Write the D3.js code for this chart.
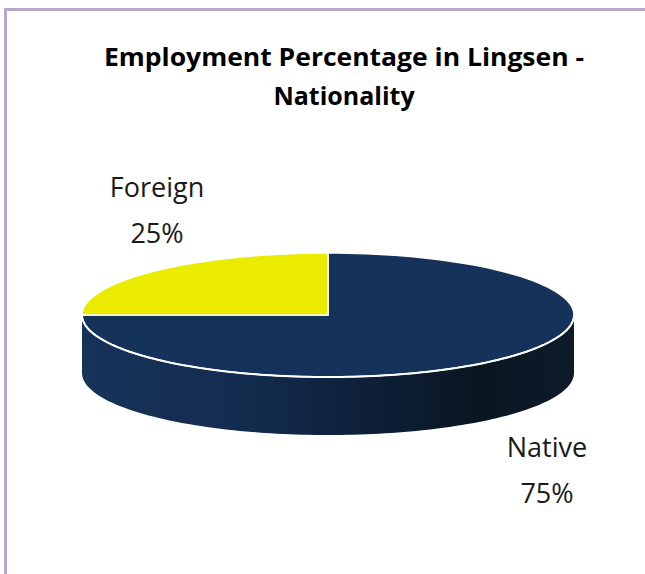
<!DOCTYPE html>
<html>
<head>
<meta charset="utf-8">
<script src="https://cdn.jsdelivr.net/npm/d3@7"></script>
<style>
  html, body { margin: 0; padding: 0; background: #ffffff; }
  svg { display: block; }
</style>
</head>
<body>
<svg id="chart" width="645" height="574"></svg>
<script>
// Employment share by nationality
const categories = ["Native", "Foreign"];
const values = [75, 25];
const sliceColors = ["#15325a", "#ebeb00"];
const titleLines = ["Employment Percentage in Lingsen -", "Nationality"];

const W = 645, H = 574;
const svg = d3.select("#chart");

// frame: lavender rule along the top and left edges
svg.append("path")
  .attr("d", `M5.5,${H} L5.5,9.5 L${W},9.5`)
  .attr("fill", "none")
  .attr("stroke", "#b8a7cd")
  .attr("stroke-width", 3);

// title
const title = svg.append("text")
  .attr("text-anchor", "middle")
  .attr("font-family", "'Open Sans', sans-serif")
  .attr("font-weight", "bold")
  .attr("font-size", 25)
  .attr("fill", "#000");
title.selectAll("tspan").data(titleLines).join("tspan")
  .attr("x", 344)
  .attr("y", (d, i) => 66 + i * 39)
  .text(d => d);
title.select("tspan").attr("textLength", 480).attr("lengthAdjust", "spacingAndGlyphs");

// 3D elliptical pie geometry
const cx = 328, cy = 315, rx = 246, ry = 62, depth = 58;
const pie = d3.pie().sort(null).value(d => d)(values);

// projection of an angle (clockwise from 12 o'clock) onto the top ellipse
const px = a => cx + rx * Math.sin(a);
const py = (a, dy = 0) => cy - ry * Math.cos(a) + dy;

function arcPoints(a0, a1, dy = 0, n = 120) {
  const pts = [];
  for (let i = 0; i <= n; i++) {
    const a = a0 + (a1 - a0) * i / n;
    pts.push([px(a), py(a, dy)]);
  }
  return pts;
}
const line = d3.line();

// side wall gradient
const defs = svg.append("defs");
const grad = defs.append("linearGradient")
  .attr("id", "sideGrad")
  .attr("gradientUnits", "userSpaceOnUse")
  .attr("x1", cx - rx).attr("x2", cx + rx).attr("y1", 0).attr("y2", 0);
[[0, "#16335a"], [0.35, "#132b4d"], [0.6, "#0e1f36"], [0.8, "#091622"], [1, "#0d1a28"]]
  .forEach(([o, c]) => grad.append("stop").attr("offset", o).attr("stop-color", c));

// visible front wall: from 3 o'clock through 6 o'clock to 9 o'clock
pie.forEach((s, i) => {
  const a0 = Math.max(s.startAngle, Math.PI / 2);
  const a1 = Math.min(s.endAngle, Math.PI * 1.5);
  if (a1 <= a0) return;
  const top = arcPoints(a0, a1);
  const bottom = arcPoints(a1, a0, depth);
  svg.append("path")
    .attr("d", line(top.concat(bottom)) + "Z")
    .attr("fill", i === 0 ? "url(#sideGrad)" : d3.color(sliceColors[i]).darker(0.8));
});

// top faces
pie.forEach((s, i) => {
  const pts = [[cx, cy]].concat(arcPoints(s.startAngle, s.endAngle));
  svg.append("path")
    .attr("d", line(pts) + "Z")
    .attr("fill", sliceColors[i])
    .attr("stroke", "#ffffff")
    .attr("stroke-width", 1.5)
    .attr("stroke-linejoin", "miter");
});

// bright rim along the front edge of the top face
svg.append("path")
  .attr("d", line(arcPoints(Math.PI / 2, Math.PI * 1.5)))
  .attr("fill", "none")
  .attr("stroke", "#ffffff")
  .attr("stroke-width", 2);

// data labels
const labelPos = [[547, 457], [157, 197]];
pie.forEach((s, i) => {
  const t = svg.append("text")
    .attr("text-anchor", "middle")
    .attr("font-family", "'Open Sans', sans-serif")
    .attr("font-size", 27)
    .attr("fill", "#1a1a1a");
  t.append("tspan").attr("x", labelPos[i][0]).attr("y", labelPos[i][1]).text(categories[i]);
  t.append("tspan").attr("x", labelPos[i][0]).attr("y", labelPos[i][1] + 46).text(values[i] + "%");
});
</script>
</body>
</html>
